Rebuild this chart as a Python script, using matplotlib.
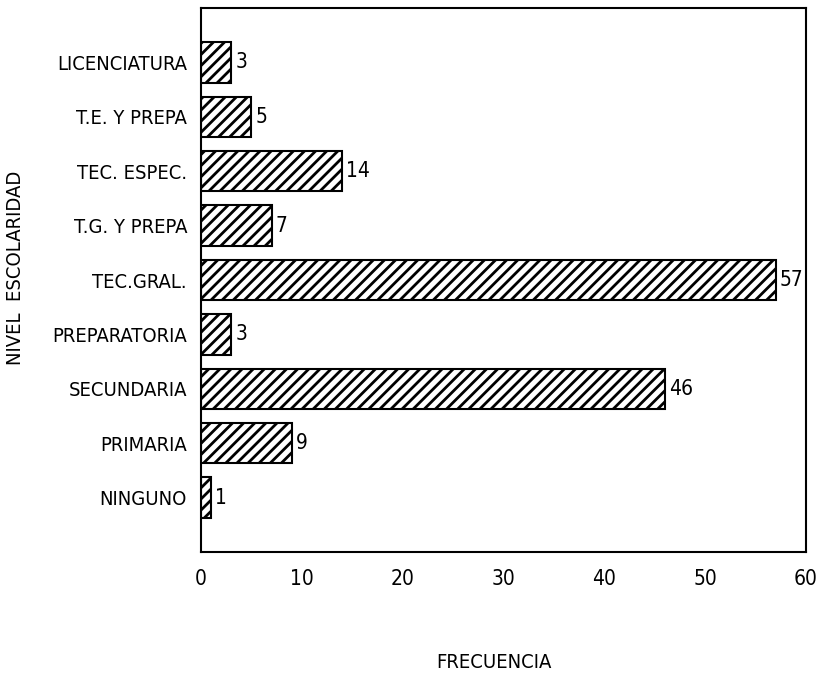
import matplotlib.pyplot as plt

niveles = ['NINGUNO', 'PRIMARIA', 'SECUNDARIA', 'PREPARATORIA', 'TEC.GRAL.',
           'T.G. Y PREPA', 'TEC. ESPEC.', 'T.E. Y PREPA', 'LICENCIATURA']
frecuencia = [1, 9, 46, 3, 57, 7, 14, 5, 3]
xticks = [0, 10, 20, 30, 40, 50, 60]

plt.rcParams['font.family'] = ['DejaVu Sans']
plt.rcParams['font.stretch'] = 'condensed'
plt.rcParams['hatch.linewidth'] = 2.0

fig = plt.figure(figsize=(8.21, 6.79), dpi=100)
ax = fig.add_axes([201 / 821, 1 - 552 / 679, 605 / 821, 544 / 679])

pos = list(range(len(niveles)))
bars = ax.barh(pos, frecuencia, height=0.74, color='white', edgecolor='black',
               hatch='///', linewidth=1.5)

for p, v in zip(pos, frecuencia):
    ax.text(v + 0.4, p, str(v), va='center', ha='left', fontsize=15, stretch='condensed')

ax.set_xlim(0, 60)
ax.set_ylim(-1, 9)
ax.set_yticks(pos)
ax.set_yticklabels(niveles, fontsize=14.5, stretch='condensed')
ax.set_xticks(xticks)
ax.set_xticklabels([str(t) for t in xticks], fontsize=15, stretch='condensed')
ax.tick_params(axis='both', length=0)
ax.tick_params(axis='y', pad=10)
ax.tick_params(axis='x', pad=12)
for s in ax.spines.values():
    s.set_linewidth(1.5)

fig.text(494 / 821, 1 - 662 / 679, 'FRECUENCIA', ha='center', va='center',
         fontsize=14.5, stretch='condensed')
fig.text(16 / 821, 1 - 268 / 679, 'NIVEL  ESCOLARIDAD', ha='center', va='center',
         rotation=90, fontsize=14.5, stretch='condensed')

plt.savefig('out.png', dpi=100)
